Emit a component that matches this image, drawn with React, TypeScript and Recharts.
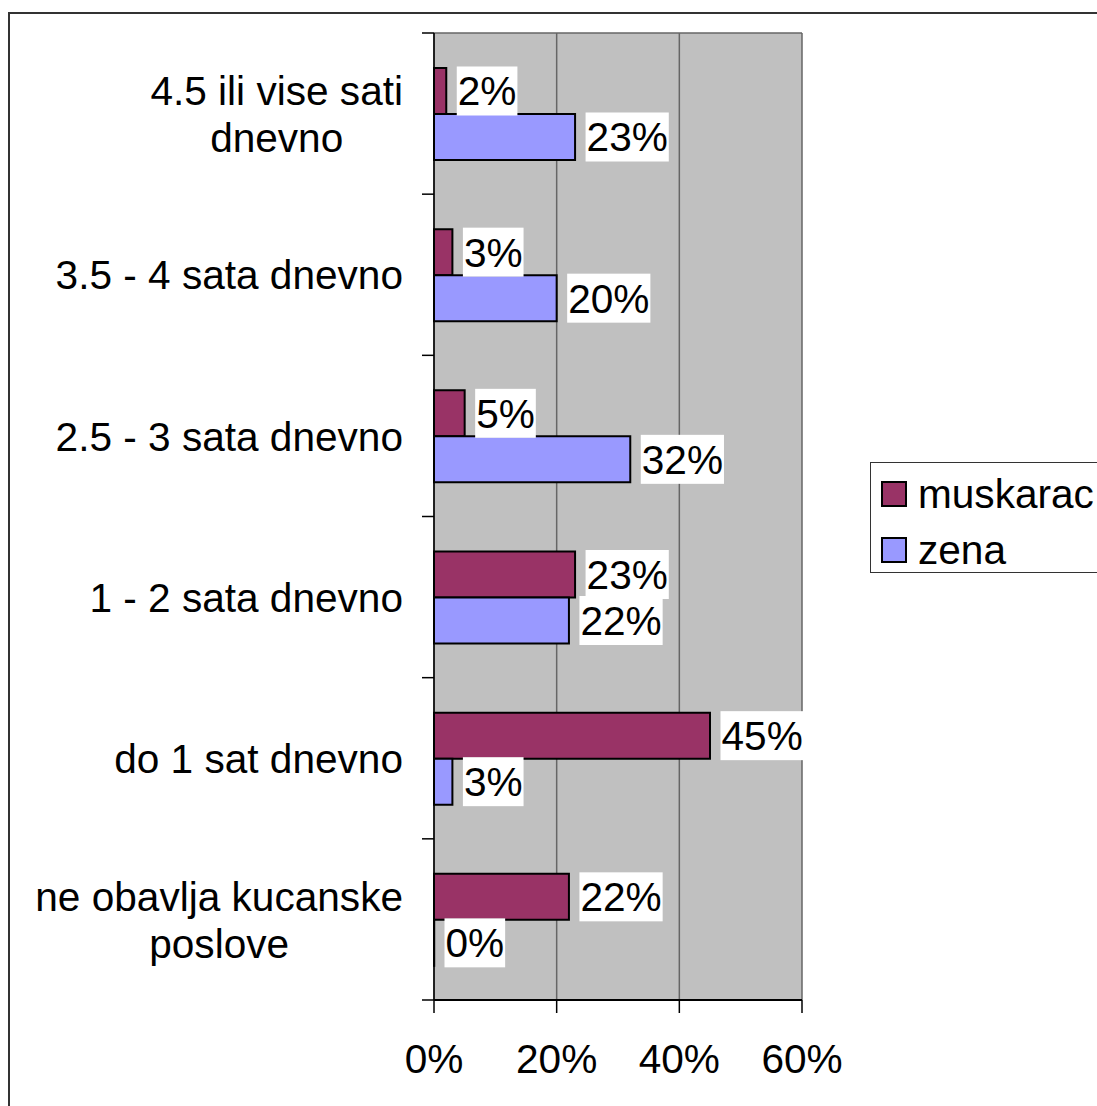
import React from 'react';
import { BarChart, Bar, XAxis, YAxis, CartesianGrid, LabelList } from 'recharts';

const categories = [
  '4.5 ili vise sati\ndnevno',
  '3.5 - 4 sata dnevno',
  '2.5 - 3 sata dnevno',
  '1 - 2 sata dnevno',
  'do 1 sat dnevno',
  'ne obavlja kucanske\nposlove',
];
const muskarac = [2, 3, 5, 23, 45, 22];
const zena = [23, 20, 32, 22, 3, 0];
const seriesNames = ['muskarac', 'zena'];
const seriesColors = ['#993366', '#9999FF'];
const xTicks = [0, 20, 40, 60];

const FONT = '"Liberation Sans", Arial, sans-serif';
const FS = 40.6;

const data = categories.map((name, i) => ({
  name,
  muskarac: muskarac[i],
  zena: zena[i],
}));

let ctx: CanvasRenderingContext2D | null = null;
function measure(text: string) {
  if (!ctx) {
    ctx = document.createElement('canvas').getContext('2d');
  }
  if (!ctx) return text.length * FS * 0.55;
  ctx.font = `${FS}px "Liberation Sans"`;
  return ctx.measureText(text).width;
}

// zero-value bars are dropped by recharts, keep a hairline so the label still shows
const keepZero = (value: any) => (value === 0 ? 0.2 : 0);

function CategoryTick(props: any) {
  const { y, payload, index, visibleTicksCount } = props;
  const half = payload && payload.offset ? payload.offset : 80.6;
  const lines = String(payload.value).split('\n');
  const maxW = Math.max(...lines.map(measure));
  const cx = 403 - maxW / 2;
  const lh = 47;
  const top = y - ((lines.length - 1) * lh) / 2;
  const last = index === (visibleTicksCount ?? categories.length) - 1;
  return (
    <g>
      <line x1={434 - 12} x2={434} y1={y - half} y2={y - half} stroke="#000" strokeWidth={1.5} />
      {last && <line x1={434 - 12} x2={434} y1={y + half} y2={y + half} stroke="#000" strokeWidth={1.5} />}
      {lines.map((ln, i) => (
        <text
          key={i}
          x={cx}
          y={top + i * lh + FS * 0.36}
          textAnchor="middle"
          fontSize={FS}
          fontFamily={FONT}
          fill="#000"
        >
          {ln}
        </text>
      ))}
    </g>
  );
}

function ValueLabel(props: any) {
  const { x, y, width, height, value } = props;
  const v = Array.isArray(value) ? value[1] - value[0] : value;
  const text = `${v}%`;
  const bx = Number(x) + (v === 0 ? 0 : Number(width || 0)) + 10.5;
  const cy = Number(y) + Number(height) / 2;
  const w = measure(text) + 2;
  return (
    <g>
      <rect x={bx} y={cy - 24.5} width={w} height={49} fill="#fff" />
      <text x={bx + 1} y={cy + FS * 0.355} fontSize={FS} fontFamily={FONT} fill="#000">
        {text}
      </text>
    </g>
  );
}

export default function App() {
  return (
    <div
      style={{
        position: 'absolute',
        left: 0,
        top: 0,
        width: 1097,
        height: 1106,
        overflow: 'hidden',
        background: '#fff',
      }}
    >
      <div
        style={{
          position: 'absolute',
          left: 8,
          top: 12,
          width: 1200,
          height: 1200,
          border: '2px solid #333',
        }}
      />
      <div style={{ position: 'absolute', left: 0, top: 0 }}>
        <BarChart
          width={1097}
          height={1106}
          data={data}
          layout="vertical"
          margin={{ top: 33, right: 295, bottom: 0, left: 0 }}
          barSize={46}
          barGap={0}
        >
          <CartesianGrid
            fill="#C0C0C0"
            stroke="#666"
            strokeWidth={1.5}
            horizontalCoordinatesGenerator={({ offset }: any) => [offset.top]}
          />
          <XAxis
            type="number"
            domain={[0, 60]}
            ticks={xTicks}
            tickFormatter={(v) => `${v}%`}
            height={106}
            tickSize={13}
            tickMargin={31}
            axisLine={{ stroke: '#000', strokeWidth: 2 }}
            tickLine={{ stroke: '#000', strokeWidth: 1.5 }}
            tick={{ fontSize: FS, fill: '#000', fontFamily: FONT }}
            interval={0}
          />
          <YAxis
            type="category"
            dataKey="name"
            width={434}
            axisLine={{ stroke: '#000', strokeWidth: 1.5 }}
            tickLine={false}
            tick={<CategoryTick />}
            interval={0}
          />
          <Bar
            dataKey="muskarac"
            fill={seriesColors[0]}
            stroke="#000"
            strokeWidth={2}
            minPointSize={keepZero}
            isAnimationActive={false}
          >
            <LabelList dataKey="muskarac" content={<ValueLabel />} />
          </Bar>
          <Bar
            dataKey="zena"
            fill={seriesColors[1]}
            stroke="#000"
            strokeWidth={2}
            minPointSize={keepZero}
            isAnimationActive={false}
          >
            <LabelList dataKey="zena" content={<ValueLabel />} />
          </Bar>
        </BarChart>
      </div>
      <div
        style={{
          position: 'absolute',
          left: 870,
          top: 462,
          width: 300,
          height: 109,
          border: '1px solid #333',
          background: '#fff',
          fontFamily: FONT,
          fontSize: FS,
        }}
      >
        {seriesNames.map((s, i) => (
          <div
            key={s}
            style={{ position: 'absolute', left: 10, top: 16 + i * 56, height: 29, display: 'flex', alignItems: 'center' }}
          >
            <div
              style={{
                width: 22,
                height: 22,
                border: '2px solid #000',
                background: seriesColors[i],
                marginRight: 11,
              }}
            />
            <span style={{ lineHeight: '40px', color: '#000' }}>{s}</span>
          </div>
        ))}
      </div>
    </div>
  );
}
